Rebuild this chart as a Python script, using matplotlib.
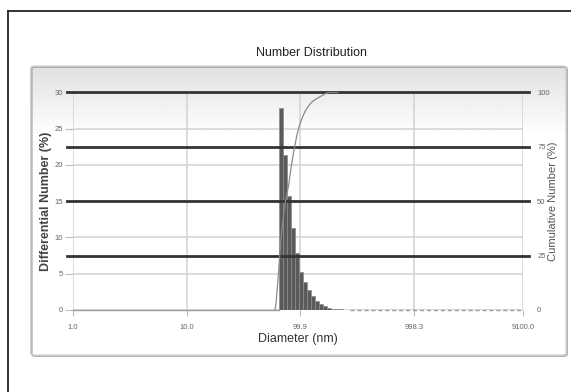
import numpy as np
import matplotlib
matplotlib.use("Agg")
import matplotlib.pyplot as plt
from matplotlib.patches import FancyBboxPatch
from matplotlib.lines import Line2D

plt.rcParams['font.family'] = ['Liberation Sans Narrow', 'Liberation Sans', 'DejaVu Sans']

# ---------- DATA --------------
# bin edges (nm) and differential number (%) per bin
bin_edges = [64.5, 69.9, 75.8, 82.2, 89.1, 96.6, 104.7, 113.5, 123.0, 133.4,
             144.6, 156.7, 169.9, 184.2, 199.7, 216.4, 234.6, 254.3, 275.7]
diff_number = [27.8, 21.3, 15.7, 11.3, 7.9, 5.3, 3.9, 2.8, 1.9, 1.25,
               0.8, 0.5, 0.32, 0.2, 0.12, 0.07, 0.04, 0.02]

# cumulative curve
cum_diam = [59.8, 61.0, 62.0, 63.6, 65.0, 66.5, 68.0, 69.9, 72.0, 74.0, 76.5,
            78.9, 82.6, 87.3, 93.3, 98.0, 103.3, 110.0, 119.7, 127.0, 135.0,
            144.8, 155.0, 165.0, 177.4, 214.0]
cum_number = [0, 3, 7, 14, 21, 28, 34.5, 39.8, 45.5, 50, 54,
              57.4, 65, 72.7, 80.4, 84.6, 88, 91.3, 94.2, 95.7, 96.7,
              97.6, 98.5, 99.3, 100, 100]

xtick_vals = [1.0, 10.0, 99.9, 998.3, 9100.0]
xtick_labels = ["1.0", "10.0", "99.9", "998.3", "9100.0"]
left_ticks = [0, 5, 10, 15, 20, 25, 30]
right_ticks = [0, 25, 50, 75, 100]
# ------------------------------

W, H = 571, 392
fig = plt.figure(figsize=(W / 100, H / 100), dpi=100)


def fx(px):
    return px / W


def fy(py):
    return 1 - py / H


# outer black frame (only left and top visible)
fig.add_artist(Line2D([fx(7.5), fx(7.5)], [fy(11), 0], color='#222222', lw=1.3))
fig.add_artist(Line2D([fx(7.5), 1], [fy(11), fy(11)], color='#222222', lw=1.3))

# panel with gradient
p_l, p_t, p_r, p_b = 30.7, 66, 566, 355
bg = fig.add_axes([fx(p_l), fy(p_b), fx(p_r - p_l), (p_b - p_t) / H])
grad = np.ones((300, 2))
n = int(300 * 0.24)
grad[:n, :] = np.linspace(0.88, 1.0, n)[:, None]
bg.imshow(grad, cmap='gray', vmin=0, vmax=1, aspect='auto', extent=[0, 1, 0, 1])
bg.axis('off')
fig.add_artist(FancyBboxPatch((fx(p_l + 1.2), fy(p_b + 1.2)), fx(p_r - p_l), (p_b - p_t) / H,
                              boxstyle="round,pad=0,rounding_size=0.006",
                              transform=fig.transFigure, fill=False, ec='#a8a8a8', lw=1.0))
fig.add_artist(FancyBboxPatch((fx(p_l), fy(p_b)), fx(p_r - p_l), (p_b - p_t) / H,
                              boxstyle="round,pad=0,rounding_size=0.006",
                              transform=fig.transFigure, fill=False, ec='#c8c8c8', lw=0.8))

# plot area
a_l, a_r, a_t, a_b = 72.8, 523.3, 92.3, 310
ax = fig.add_axes([fx(a_l), fy(a_b), fx(a_r - a_l), (a_b - a_t) / H])
ax.set_facecolor('none')
ax.set_xscale('log')
ax.set_xlim(1, 9100)
ax.set_ylim(0, 30)

ax.set_xticks(xtick_vals)
ax.set_xticklabels(xtick_labels)
ax.minorticks_off()
ax.set_yticks(left_ticks)
ax.grid(True, axis='both', color='#d2d2d2', lw=1.1, zorder=0)
ax.set_axisbelow(True)
ax.tick_params(axis='y', length=6, color='#bbbbbb', labelsize=5.5, labelcolor='#666666', pad=1)
ax.tick_params(axis='x', length=4, color='#bbbbbb', labelsize=5.5, labelcolor='#666666', pad=6)
for s in ax.spines.values():
    s.set_visible(False)

widths = np.diff(bin_edges)
ax.bar(bin_edges[:-1], diff_number, width=widths, align='edge',
       color='#5a5a5a', edgecolor='#8c8c8c', lw=0.5, zorder=3)

# zero line: solid before the bars, dashed after
ax.plot([1, bin_edges[0]], [0, 0], color='#9a9a9a', lw=1.0, zorder=2, clip_on=False)
ax.plot([bin_edges[-1], 9100], [0, 0], color='#9a9a9a', lw=1.0, ls=(0, (3, 2)), zorder=2, clip_on=False)

ax2 = ax.twinx()
ax2.set_ylim(0, 100)
ax2.set_yticks(right_ticks)
ax2.tick_params(axis='y', length=0, labelsize=5.5, labelcolor='#666666', pad=10)
for s in ax2.spines.values():
    s.set_visible(False)
for v in right_ticks[1:]:
    ax2.axhline(v, xmin=-0.013, xmax=1.013, color='#333333', lw=2.0, clip_on=False, zorder=1)
ax2.plot(cum_diam, cum_number, color='#8a8a8a', lw=0.9, zorder=4)

fig.text(fx(311), fy(53), "Number Distribution", ha='center', va='center', fontsize=9, color='#222222')
fig.text(fx(298), fy(339), "Diameter (nm)", ha='center', va='center', fontsize=9, color='#333333')
fig.text(fx(46), fy(201), "Differential Number (%)", ha='center', va='center', rotation=90,
         fontsize=9, fontweight='bold', color='#444444')
fig.text(fx(553), fy(201), "Cumulative Number (%)", ha='center', va='center', rotation=90,
         fontsize=8, color='#555555')

fig.savefig("out.png", dpi=100)
